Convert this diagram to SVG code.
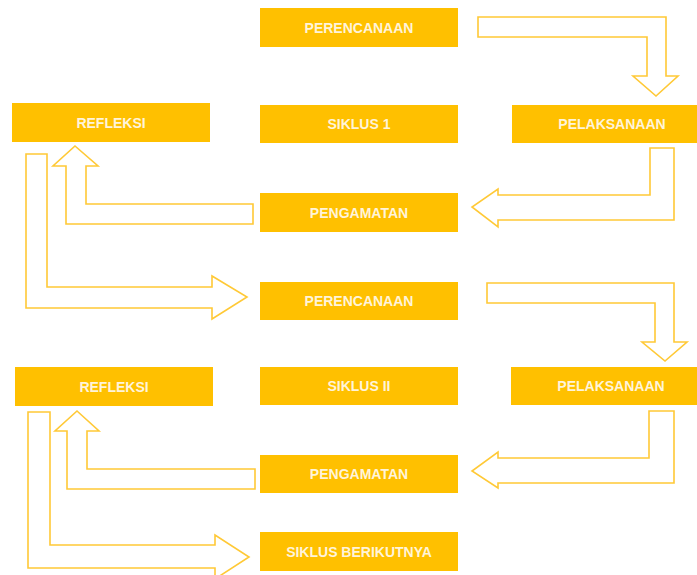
<svg xmlns="http://www.w3.org/2000/svg" width="697" height="575" viewBox="0 0 697 575">
<style>
.box{fill:#FFC000}
.lbl{fill:#FFF4DA;font-family:"Liberation Sans",Arial,sans-serif;font-weight:bold;font-size:14px;text-anchor:middle;dominant-baseline:central}
.arr{fill:none;stroke:#FFC936;stroke-width:1.6;stroke-linejoin:miter}
</style>
<rect width="697" height="575" fill="#FFFFFF"/>
<g id="connectors">
<path class="arr" d="M478,17 L666,17 L666,76 L678,76 L656,96 L633,76 L647,76 L647,37 L478,37 Z"/>
<path class="arr" d="M650,148 L674,148 L674,220 L498,220 L498,227 L472,207 L498,189 L498,195 L650,195 Z"/>
<path class="arr" d="M75,146 L98,166 L86,166 L86,204 L253,204 L253,224 L66,224 L66,166 L53,166 Z"/>
<path class="arr" d="M26,154 L47,154 L47,287 L212,287 L212,276 L247,297 L212,319 L212,308 L26,308 Z"/>
<path class="arr" d="M487,283 L674,283 L674,342 L687,342 L665,361 L642,342 L655,342 L655,303 L487,303 Z"/>
<path class="arr" d="M649,411 L674,411 L674,483 L498,483 L498,488 L472,471 L498,452 L498,458 L649,458 Z"/>
<path class="arr" d="M77,411 L99,431 L87,431 L87,469 L255,469 L255,489 L67,489 L67,431 L55,431 Z"/>
<path class="arr" d="M28,412 L50,412 L50,545 L215,545 L215,535 L249,557 L215,579 L215,568 L28,568 Z"/>
</g>
<g id="perencanaan1"><rect class="box" x="260" y="8" width="198" height="39"/><text class="lbl" x="359" y="27.5">PERENCANAAN</text></g>
<g id="refleksi1"><rect class="box" x="12" y="103" width="198" height="39"/><text class="lbl" x="111" y="122.5">REFLEKSI</text></g>
<g id="siklus1"><rect class="box" x="260" y="105" width="198" height="38"/><text class="lbl" x="359" y="124">SIKLUS 1</text></g>
<g id="pelaksanaan1"><rect class="box" x="512" y="105" width="200" height="38"/><text class="lbl" x="612" y="124">PELAKSANAAN</text></g>
<g id="pengamatan1"><rect class="box" x="260" y="193" width="198" height="39"/><text class="lbl" x="359" y="212.5">PENGAMATAN</text></g>
<g id="perencanaan2"><rect class="box" x="260" y="282" width="198" height="38"/><text class="lbl" x="359" y="301">PERENCANAAN</text></g>
<g id="refleksi2"><rect class="box" x="15" y="367" width="198" height="39"/><text class="lbl" x="114" y="386.5">REFLEKSI</text></g>
<g id="siklus2"><rect class="box" x="260" y="367" width="198" height="38"/><text class="lbl" x="359" y="386">SIKLUS II</text></g>
<g id="pelaksanaan2"><rect class="box" x="511" y="367" width="200" height="38"/><text class="lbl" x="611" y="386">PELAKSANAAN</text></g>
<g id="pengamatan2"><rect class="box" x="260" y="455" width="198" height="38"/><text class="lbl" x="359" y="474">PENGAMATAN</text></g>
<g id="siklusberikutnya"><rect class="box" x="260" y="532" width="198" height="39"/><text class="lbl" x="359" y="551.5">SIKLUS BERIKUTNYA</text></g>
</svg>
